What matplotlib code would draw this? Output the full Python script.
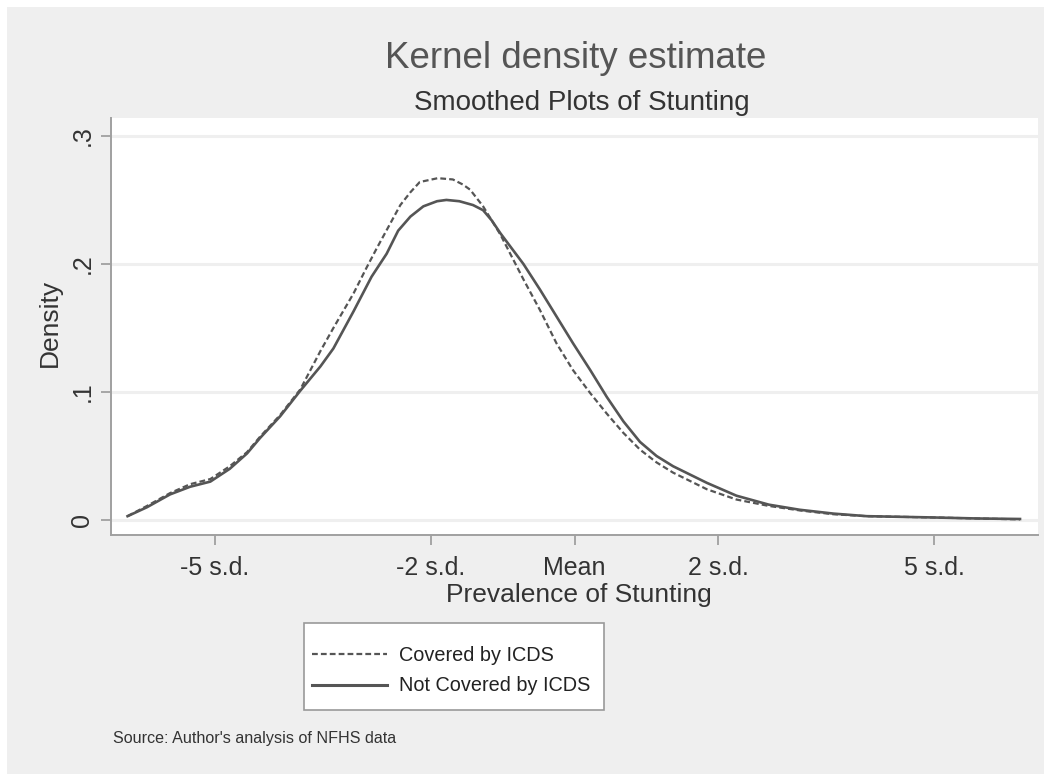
import matplotlib
matplotlib.use('Agg')
from matplotlib import pyplot as plt
from matplotlib.patches import Rectangle
from matplotlib.lines import Line2D

plt.rcParams['font.family'] = ['Liberation Sans', 'DejaVu Sans']

# densities (x in s.d. units)
covered_x = [-6.21, -5.94, -5.62, -5.34, -5.06, -4.79, -4.55, -4.37, -4.09, -3.81,
             -3.53, -3.35, -3.07, -2.89, -2.75, -2.42, -2.28, -2.15, -1.9, -1.69,
             -1.55, -1.45, -1.27, -1.03, -0.71, -0.48, -0.25, -0.02, 0.22, 0.45,
             0.68, 0.91, 1.14, 1.37, 1.84, 2.25, 2.7, 3.13, 3.6, 4.06, 4.98, 5.6, 6.19]
covered_y = [0.003, 0.011, 0.021, 0.028, 0.032, 0.042, 0.053, 0.065, 0.082, 0.102,
             0.132, 0.15, 0.177, 0.197, 0.212, 0.246, 0.256, 0.264, 0.267, 0.266,
             0.262, 0.258, 0.245, 0.223, 0.188, 0.164, 0.138, 0.117, 0.099, 0.083,
             0.068, 0.055, 0.045, 0.037, 0.024, 0.016, 0.011, 0.0075, 0.0045, 0.003, 0.002, 0.0012, 0.0005]

not_covered_x = [-6.21, -5.94, -5.62, -5.34, -5.06, -4.79, -4.55, -4.37, -4.09, -3.81,
                 -3.53, -3.35, -3.07, -2.82, -2.61, -2.45, -2.28, -2.1, -1.91, -1.78,
                 -1.6, -1.41, -1.27, -1.15, -1.03, -0.71, -0.48, -0.25, -0.02, 0.22,
                 0.45, 0.68, 0.91, 1.14, 1.37, 1.84, 2.25, 2.7, 3.13, 3.6, 4.06, 4.98, 5.6, 6.19]
not_covered_y = [0.003, 0.01, 0.02, 0.026, 0.030, 0.040, 0.052, 0.064, 0.081, 0.101,
                 0.12, 0.134, 0.163, 0.19, 0.208, 0.226, 0.237, 0.245, 0.249, 0.25,
                 0.249, 0.246, 0.242, 0.234, 0.224, 0.2, 0.18, 0.159, 0.138, 0.117,
                 0.096, 0.077, 0.061, 0.05, 0.042, 0.029, 0.019, 0.012, 0.008, 0.005, 0.003, 0.002, 0.0012, 0.0008]

x_ticks = [-5, -2, 0, 2, 5]
x_labels = ['-5 s.d.', '-2 s.d.', 'Mean', '2 s.d.', '5 s.d.']
y_ticks = [0, 0.1, 0.2, 0.3]
y_labels = ['0', '.1', '.2', '.3']
series_labels = ['Covered by ICDS', 'Not Covered by ICDS']

W, H = 1054, 774
fig = plt.figure(figsize=(W / 100, H / 100), dpi=100)
fig.patch.set_facecolor('white')
fig.patches.append(Rectangle((7 / W, 0), 1037 / W, 767 / H, transform=fig.transFigure,
                             facecolor='#efefef', edgecolor='none', zorder=-10))

ax = fig.add_axes([111 / W, 1 - 535 / H, 927 / W, 417 / H])
ax.set_zorder(2)
ax.set_facecolor('white')

line_col = '#555555'
dash_style = (0, (2.6, 1.4))
ax.plot(covered_x, covered_y, color=line_col, lw=1.6, linestyle=dash_style)
ax.plot(not_covered_x, not_covered_y, color=line_col, lw=1.9)

ax.set_xlim(-6.44, 6.44)
ax.set_ylim(-0.0117, 0.314)
ax.set_xticks(x_ticks)
ax.set_xticklabels(x_labels)
ax.set_yticks(y_ticks)
ax.set_yticklabels(y_labels, rotation=90, va='center')

for y in y_ticks:
    ax.axhline(y, color='#efefef', lw=2.2, zorder=0)

for side in ['top', 'right']:
    ax.spines[side].set_visible(False)
for side in ['left', 'bottom']:
    ax.spines[side].set_color('#a0a0a0')
    ax.spines[side].set_linewidth(1.4)

ax.tick_params(axis='x', length=7, width=1.3, color='#a0a0a0', labelsize=18,
               labelcolor='#333333', pad=8)
ax.tick_params(axis='y', length=7, width=1.3, color='#a0a0a0', labelsize=18,
               labelcolor='#333333', pad=5)

# titles and axis titles
fig.text(575.5 / W, 1 - 68 / H, 'Kernel density estimate', ha='center', va='baseline',
         fontsize=26.5, color='#555555')
fig.text(582 / W, 1 - 110 / H, 'Smoothed Plots of Stunting', ha='center', va='baseline',
         fontsize=20, color='#333333')
fig.text(578.5 / W, 1 - 602 / H, 'Prevalence of Stunting', ha='center', va='baseline',
         fontsize=19, color='#333333')
fig.text(50 / W, 1 - 323 / H, 'Density', ha='center', va='center', rotation=90,
         fontsize=19, color='#333333')

# legend box + entries
fig.patches.append(Rectangle((304 / W, 1 - 710 / H), 300 / W, 87 / H, transform=fig.transFigure,
                             facecolor='white', edgecolor='#999999', lw=1.2, zorder=1))
handles = [Line2D([], [], color=line_col, lw=1.6, linestyle=dash_style),
           Line2D([], [], color=line_col, lw=2.2)]
fig.legend(handles, series_labels, loc='center left',
           bbox_to_anchor=(312 / W, 1 - 670.5 / H), frameon=False, fontsize=14.3,
           handlelength=3.8, handletextpad=0.6, labelspacing=0.6, borderpad=0,
           borderaxespad=0, labelcolor='#222222')

fig.text(113 / W, 1 - 743 / H, "Source: Author's analysis of NFHS data", ha='left',
         va='baseline', fontsize=11.6, color='#333333')

fig.savefig('out.png', dpi=100)
